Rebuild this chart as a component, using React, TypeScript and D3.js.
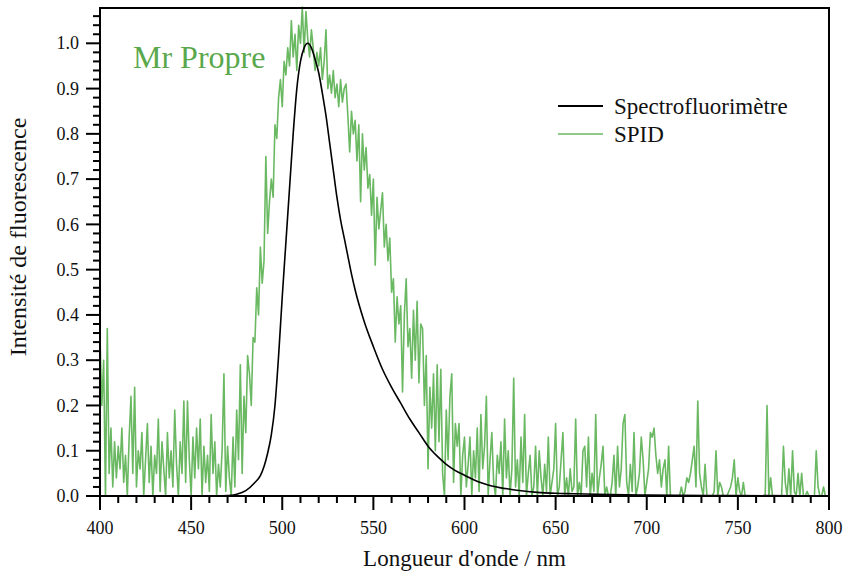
import React from "react";
import * as d3 from "d3";

// Spectrofluorimètre (courbe de référence)
const specNm = [400, 440, 460, 465, 470, 475, 480, 485, 488, 490, 492, 494, 496, 498, 500, 502, 504, 506, 508, 510, 512, 514, 516, 518, 520, 522, 524, 526, 528, 530, 532, 534, 536, 538, 540, 545, 550, 555, 560, 565, 570, 575, 580, 585, 590, 595, 600, 605, 610, 615, 620, 625, 630, 640, 650, 660, 680, 700, 750, 800];
const specValues = [0, 0, 0, 0, 0.001, 0.004, 0.012, 0.03, 0.045, 0.065, 0.095, 0.135, 0.2, 0.31, 0.44, 0.56, 0.68, 0.8, 0.9, 0.96, 0.99, 1.0, 0.99, 0.965, 0.935, 0.89, 0.84, 0.78, 0.72, 0.66, 0.61, 0.57, 0.53, 0.49, 0.455, 0.385, 0.33, 0.28, 0.24, 0.205, 0.17, 0.14, 0.11, 0.088, 0.07, 0.056, 0.046, 0.036, 0.028, 0.022, 0.018, 0.015, 0.012, 0.008, 0.006, 0.005, 0.003, 0.002, 0.001, 0];

// SPID : un point par nm, de 400 à 800 nm
const spidStart = 400;
const spidValues = [
  0.35, 0.20, 0.30, 0.00, 0.37, 0.05, 0.15, 0.02, 0.12, 0.04,
  0.11, 0.06, 0.15, 0.03, 0.09, 0.00, 0.13, 0.22, 0.05, 0.24,
  0.02, 0.10, 0.06, 0.14, 0.00, 0.08, 0.16, 0.03, 0.11, 0.00,
  0.09, 0.05, 0.17, 0.01, 0.12, 0.06, 0.00, 0.14, 0.04, 0.10,
  0.02, 0.19, 0.07, 0.00, 0.12, 0.05, 0.21, 0.03, 0.21, 0.08,
  0.00, 0.13, 0.04, 0.15, 0.06, 0.17, 0.00, 0.11, 0.03, 0.09,
  0.01, 0.18, 0.05, 0.12, 0.00, 0.07, 0.02, 0.10, 0.27, 0.01,
  0.11, 0.04, 0.00, 0.13, 0.02, 0.19, 0.08, 0.29, 0.05, 0.22,
  0.14, 0.31, 0.27, 0.20, 0.35, 0.34, 0.46, 0.40, 0.55, 0.47,
  0.52, 0.75, 0.58, 0.65, 0.70, 0.66, 0.82, 0.79, 0.88, 0.92,
  0.86, 0.96, 0.93, 0.99, 0.95, 1.05, 0.97, 1.02, 0.94, 1.04,
  1.00, 1.08, 0.98, 1.07, 1.01, 0.97, 1.03, 0.99, 0.94, 0.98,
  0.95, 0.99, 0.92, 0.96, 1.03, 0.90, 0.93, 0.89, 0.94, 0.88,
  0.91, 0.86, 0.92, 0.87, 0.90, 0.91, 0.84, 0.76, 0.85, 0.80,
  0.83, 0.74, 0.82, 0.65, 0.80, 0.72, 0.77, 0.68, 0.71, 0.62,
  0.70, 0.51, 0.66, 0.59, 0.63, 0.67, 0.55, 0.60, 0.52, 0.57,
  0.45, 0.48, 0.34, 0.44, 0.38, 0.42, 0.23, 0.40, 0.48, 0.33,
  0.37, 0.26, 0.41, 0.30, 0.43, 0.25, 0.38, 0.37, 0.20, 0.31,
  0.06, 0.24, 0.15, 0.27, 0.10, 0.29, 0.12, 0.28, 0.05, 0.00,
  0.19, 0.08, 0.22, 0.27, 0.03, 0.16, 0.11, 0.16, 0.00, 0.09,
  0.13, 0.02, 0.07, 0.13, 0.00, 0.10, 0.04, 0.15, 0.01, 0.18,
  0.06, 0.11, 0.22, 0.00, 0.08, 0.14, 0.03, 0.00, 0.09, 0.05,
  0.12, 0.00, 0.17, 0.04, 0.10, 0.00, 0.06, 0.26, 0.02, 0.08,
  0.00, 0.13, 0.03, 0.18, 0.00, 0.05, 0.09, 0.00, 0.02, 0.11,
  0.00, 0.10, 0.04, 0.00, 0.07, 0.01, 0.13, 0.00, 0.03, 0.06,
  0.16, 0.00, 0.02, 0.08, 0.14, 0.00, 0.04, 0.00, 0.06, 0.01,
  0.02, 0.17, 0.00, 0.03, 0.00, 0.10, 0.11, 0.02, 0.13, 0.00,
  0.05, 0.01, 0.18, 0.00, 0.04, 0.07, 0.11, 0.00, 0.02, 0.00,
  0.00, 0.03, 0.09, 0.00, 0.11, 0.02, 0.06, 0.16, 0.18, 0.03,
  0.00, 0.07, 0.01, 0.14, 0.00, 0.02, 0.05, 0.13, 0.08, 0.00,
  0.03, 0.06, 0.14, 0.13, 0.15, 0.09, 0.05, 0.08, 0.02, 0.06,
  0.08, 0.00, 0.11, 0.00, 0.00, 0.00, 0.00, 0.00, 0.00, 0.02,
  0.00, 0.01, 0.04, 0.03, 0.05, 0.08, 0.11, 0.02, 0.21, 0.05,
  0.02, 0.00, 0.07, 0.00, 0.00, 0.00, 0.00, 0.01, 0.10, 0.00,
  0.03, 0.02, 0.00, 0.00, 0.00, 0.01, 0.02, 0.04, 0.08, 0.00,
  0.04, 0.01, 0.00, 0.03, 0.00, 0.00, 0.00, 0.00, 0.00, 0.00,
  0.00, 0.00, 0.00, 0.00, 0.00, 0.00, 0.20, 0.00, 0.04, 0.00,
  0.00, 0.00, 0.00, 0.00, 0.00, 0.11, 0.03, 0.00, 0.06, 0.00,
  0.10, 0.01, 0.00, 0.05, 0.00, 0.05, 0.00, 0.00, 0.01, 0.00,
  0.00, 0.00, 0.00, 0.10, 0.02, 0.00, 0.00, 0.02, 0.00, 0.00,
  0.00,
];

const xMajorTicks = [400, 450, 500, 550, 600, 650, 700, 750, 800];
const yMajorTicks = [0, 0.1, 0.2, 0.3, 0.4, 0.5, 0.6, 0.7, 0.8, 0.9, 1.0];

const legendItems = [
  { label: "Spectrofluorimètre", color: "#000000" },
  { label: "SPID", color: "#6ab962" },
];

const FONT = '"Liberation Serif"';
const W = 850;
const H = 573;
const margin = { top: 8, right: 21, bottom: 77, left: 100 };

const x = d3.scaleLinear().domain([400, 800]).range([margin.left, W - margin.right]);
const y = d3.scaleLinear().domain([0, 1.078]).range([H - margin.bottom, margin.top]);

const xMinor = d3.range(400, 801, 10).filter((v) => !xMajorTicks.includes(v));
const yMinor = d3.range(0, 1.07, 0.02).filter((v) => Math.abs(v * 10 - Math.round(v * 10)) > 1e-6);

export default function App() {
  const specLine = d3
    .line<number>()
    .x((_, i) => x(specNm[i]))
    .y((d) => y(d))
    .curve(d3.curveMonotoneX);

  const spidLine = d3
    .line<number>()
    .x((_, i) => x(spidStart + i))
    .y((d) => y(d));

  const y0 = y(0);
  const x0 = x(400);
  const txt = { fontFamily: FONT, fill: "#111" };

  return (
    <svg
      width={W}
      height={H}
      style={{ position: "absolute", left: 0, top: 0, background: "#fff" }}
    >
      <path d={spidLine(spidValues) || ""} fill="none" stroke={legendItems[1].color} strokeWidth={1.6} strokeLinejoin="round" />
      <path d={specLine(specValues) || ""} fill="none" stroke="#000" strokeWidth={1.6} />

      {/* cadre */}
      <rect x={x0} y={margin.top} width={x(800) - x0} height={y0 - margin.top} fill="none" stroke="#000" strokeWidth={2} />

      {/* axe x */}
      {xMinor.map((v) => (
        <line key={"xm" + v} x1={x(v)} x2={x(v)} y1={y0} y2={y0 + 7} stroke="#000" strokeWidth={2} />
      ))}
      {xMajorTicks.map((v) => (
        <g key={"xM" + v}>
          <line x1={x(v)} x2={x(v)} y1={y0} y2={y0 + 14} stroke="#000" strokeWidth={2} />
          <text x={x(v)} y={y0 + 38} textAnchor="middle" fontSize={18} style={txt}>
            {d3.format("d")(v)}
          </text>
        </g>
      ))}

      {/* axe y */}
      {yMinor.map((v) => (
        <line key={"ym" + v} x1={x0 - 7} x2={x0} y1={y(v)} y2={y(v)} stroke="#000" strokeWidth={2} />
      ))}
      {yMajorTicks.map((v) => (
        <g key={"yM" + v}>
          <line x1={x0 - 14} x2={x0} y1={y(v)} y2={y(v)} stroke="#000" strokeWidth={2} />
          <text x={x0 - 21} y={y(v)} dy="0.34em" textAnchor="end" fontSize={18} style={txt}>
            {d3.format(".1f")(v)}
          </text>
        </g>
      ))}

      {/* titres */}
      <text x={(x0 + x(800)) / 2} y={566} textAnchor="middle" fontSize={23} style={txt}>
        Longueur d'onde / nm
      </text>
      <text
        transform={`translate(26,237) rotate(-90)`}
        textAnchor="middle"
        fontSize={24}
        style={txt}
      >
        Intensité de fluorescence
      </text>
      <text x={133} y={68} fontSize={32} style={{ fontFamily: FONT, fill: "#5aa84b" }}>
        Mr Propre
      </text>

      {/* légende */}
      <g transform="translate(558,106)">
        {legendItems.map((d, i) => (
          <g key={d.label} transform={`translate(0,${i * 28})`}>
            <line x1={0} x2={45} stroke={d.color} strokeWidth={i === 0 ? 1.8 : 1.4} />
            <text x={56} y={8} fontSize={23} style={txt}>
              {d.label}
            </text>
          </g>
        ))}
      </g>
    </svg>
  );
}
